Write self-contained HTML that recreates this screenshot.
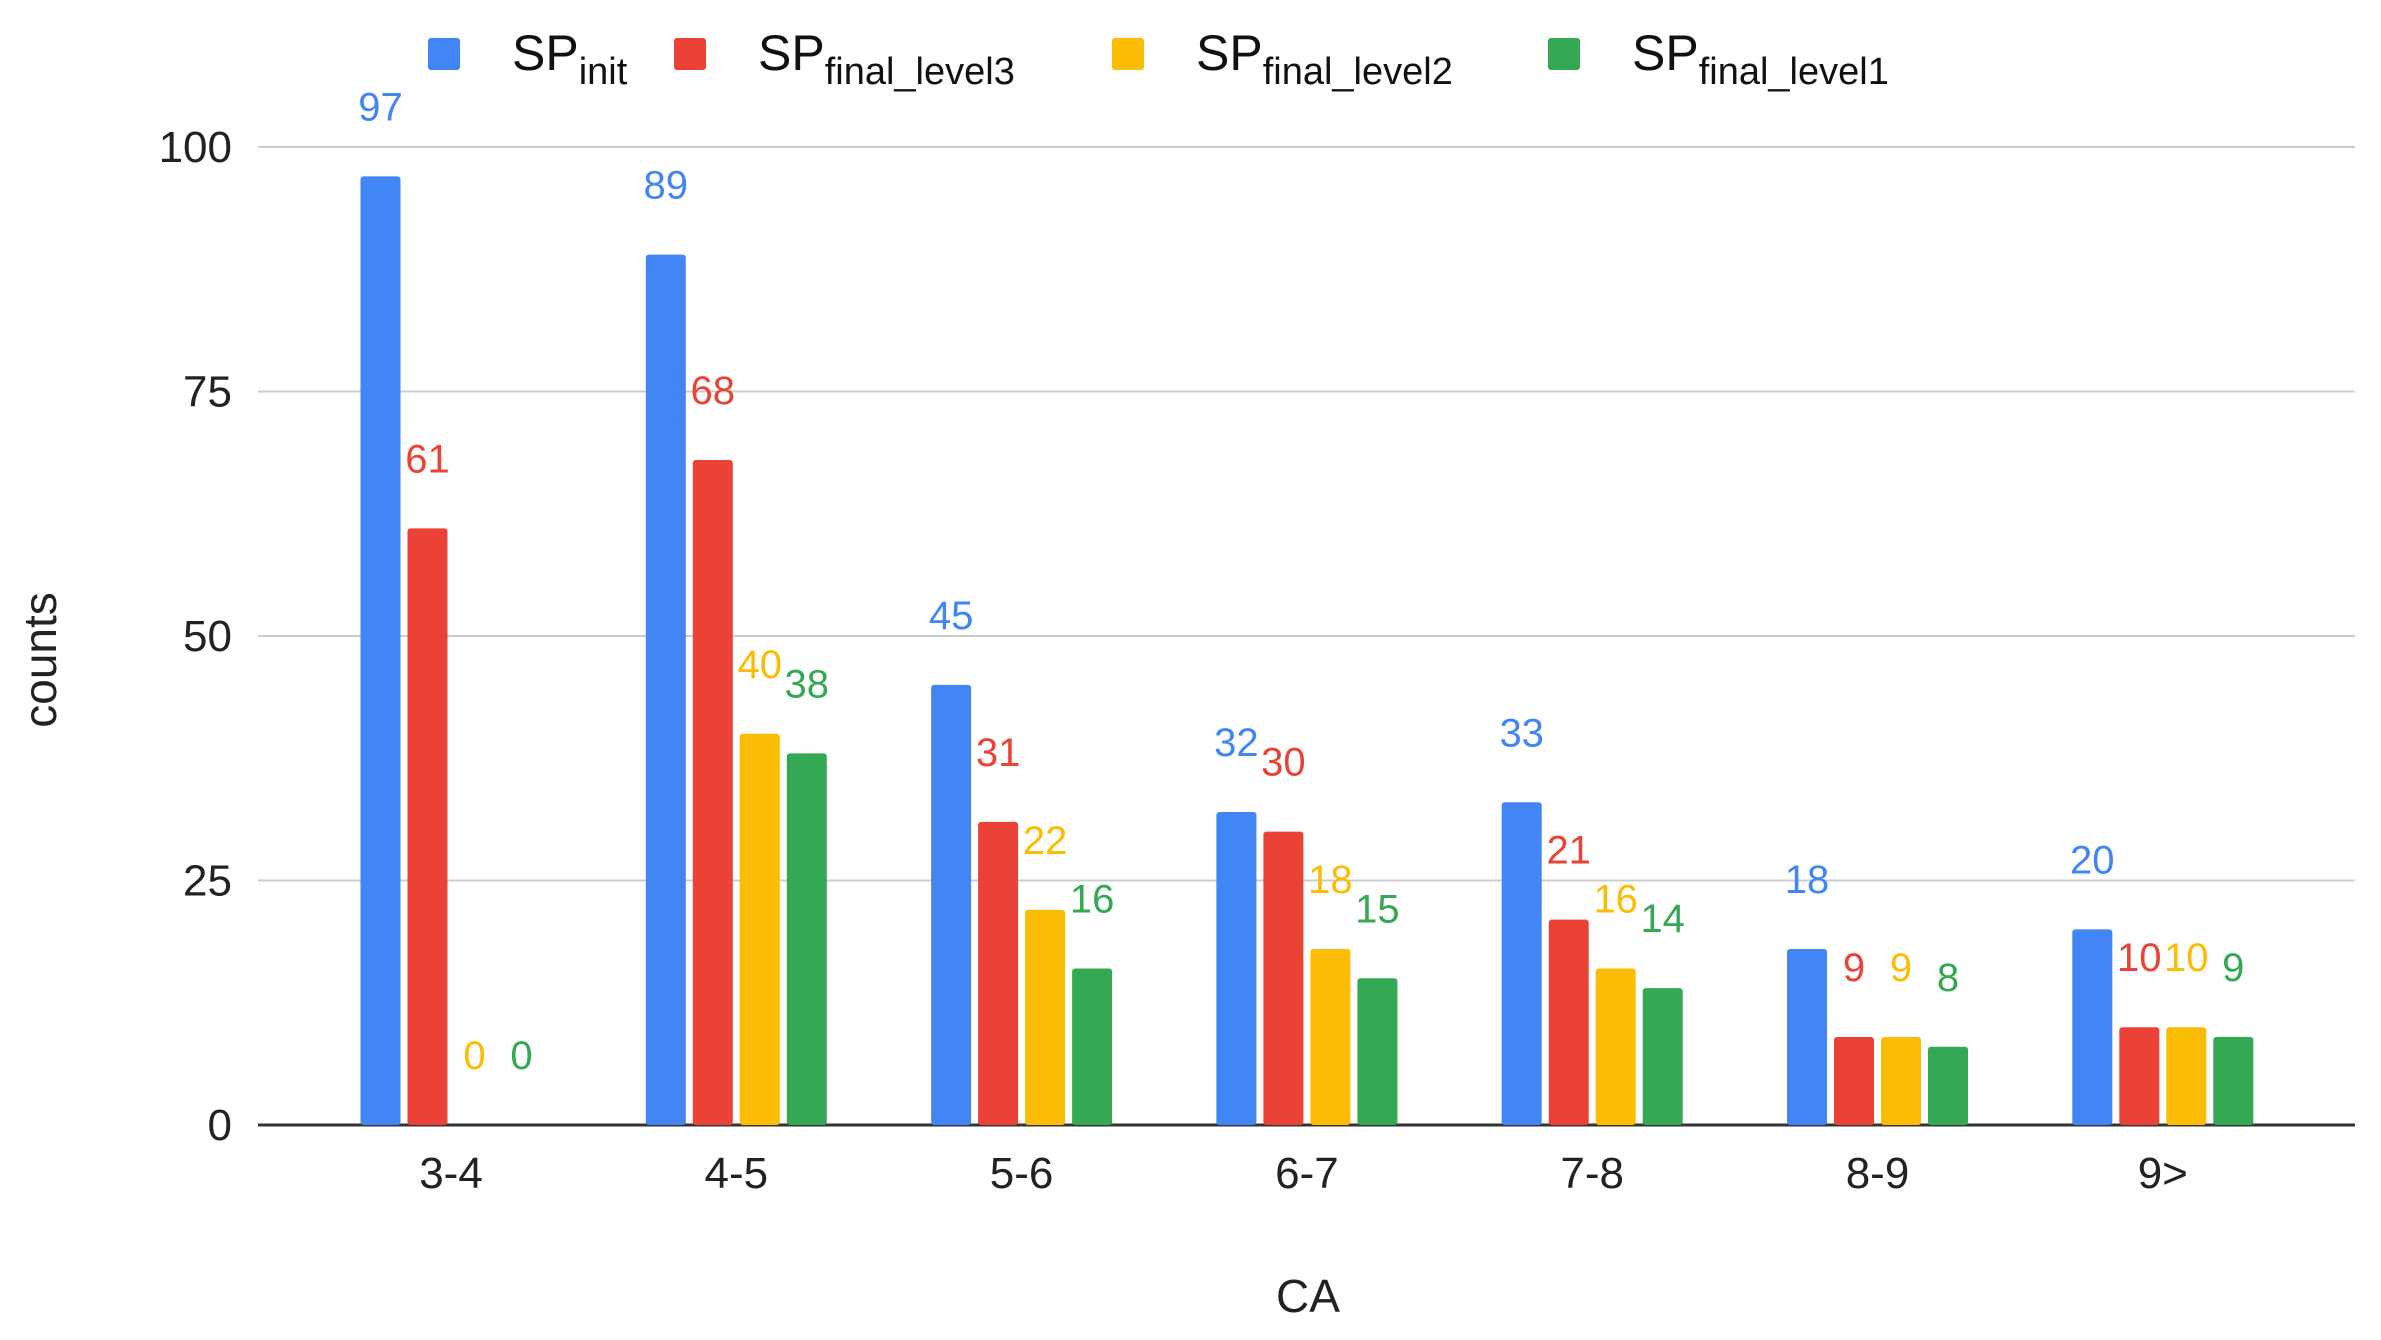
<!DOCTYPE html>
<html><head><meta charset="utf-8"><style>
html,body{margin:0;padding:0;background:#fff;}
svg{display:block;font-family:"Liberation Sans",Arial,sans-serif;}
</style></head><body>
<svg id="chart" width="2381" height="1340" viewBox="0 0 2381 1340">
<g id="grid"></g>
<g id="bars"></g>
<g id="labels"></g>
<g id="xt"></g>
<text x="1308" y="1312" font-size="46" text-anchor="middle" fill="#222">CA</text>
<text transform="translate(56,660) rotate(-90)" font-size="46" text-anchor="middle" fill="#222">counts</text>
<g id="legend"></g>
</svg>
<script>
const categories = ["3-4","4-5","5-6","6-7","7-8","8-9","9>"];
const spInit = [97,89,45,32,33,18,20];
const spLevel3 = [61,68,31,30,21,9,10];
const spLevel2 = [0,40,22,18,16,9,10];
const spLevel1 = [0,38,16,15,14,8,9];
const yTicks = [0,25,50,75,100];
const seriesNames = ["init","final_level3","final_level2","final_level1"];

const colors = ["#4285f4","#ea4335","#fbbc04","#34a853"];
const series = [spInit, spLevel3, spLevel2, spLevel1];
const NS = "http://www.w3.org/2000/svg";
const y0 = 1125, y100 = 147, left = 258, right = 2355;
const yScale = v => y0 - (y0 - y100) * v / 100;
const catX = i => 451 + i * 285.3;
const bw = 40, stride = 47;
function mk(tag, attrs, parent){const e=document.createElementNS(NS,tag);for(const k in attrs)e.setAttribute(k,attrs[k]);parent.appendChild(e);return e;}
const grid=document.getElementById('grid');
yTicks.forEach(t=>{
  const y=yScale(t);
  const l=mk('line',{x1:left,x2:right,y1:y,y2:y,stroke:t===0?'#333':'#ccc','stroke-width':t===0?3:2},grid);
  
  
  const tx=mk('text',{x:232,y:y+15,'font-size':44,'text-anchor':'end',fill:'#222'},grid);
  tx.textContent=t;
  
  
});
const bars=document.getElementById('bars'), labels=document.getElementById('labels'), xt=document.getElementById('xt');
categories.forEach((c,i)=>{
  const cx=catX(i);
  series.forEach((s,j)=>{
    const x=cx-1.5*stride-bw/2+j*stride;
    const yt=yScale(s[i]);
    const r=mk('rect',{x:x,y:yt,width:bw,height:Math.max(0,y0-yt),fill:colors[j],rx:3},bars);
    
    
    const t=mk('text',{x:x+bw/2,y:yt-56,'font-size':40,'text-anchor':'middle',fill:colors[j]},labels);
    t.textContent=s[i];
    
    
  });
  const t=mk('text',{x:cx,y:1188,'font-size':44,'text-anchor':'middle',fill:'#222'},xt);
  t.textContent=c;
  
  
});
const lg=document.getElementById('legend');
const lx=[428,674,1112,1548];
seriesNames.forEach((n,j)=>{
  const g=mk('g',{},lg);
  
  
  mk('rect',{x:lx[j],y:38,width:32,height:32,fill:colors[j],rx:3},g);
  const t=mk('text',{x:lx[j]+84,y:70,'font-size':50,fill:'#111'},g);
  t.textContent='SP';
  const s=mk('tspan',{'font-size':38,dy:14},t);
  s.textContent=n;
});
</script>
</body></html>
